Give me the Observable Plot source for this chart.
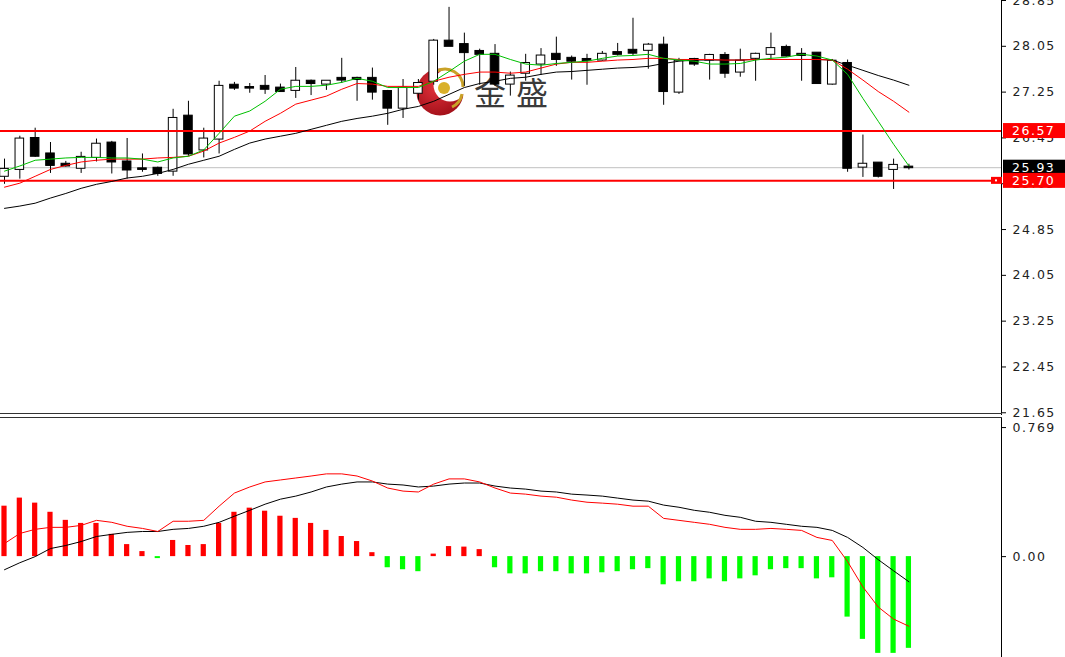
<!DOCTYPE html>
<html><head><meta charset="utf-8">
<script src="https://cdn.jsdelivr.net/npm/d3@7"></script>
<script src="https://cdn.jsdelivr.net/npm/@observablehq/plot@0.6"></script>
<style>
html,body{margin:0;padding:0;background:#fff;}
#wrap{position:relative;width:1065px;height:657px;overflow:hidden;background:#fff;}
#logo{position:absolute;left:0;top:0;}
#main{position:absolute;left:0;top:0;z-index:2;}
#macd{position:absolute;left:0;top:417px;z-index:1;}
#main svg, #macd svg{overflow:visible;}
#main svg text, #macd svg text{letter-spacing:1.5px;}
</style></head><body>
<div id="wrap">
<svg id="logo" width="1065" height="415">
 <defs><radialGradient id="rg" cx="40%" cy="40%" r="70%"><stop offset="0" stop-color="#e0303a"/><stop offset="1" stop-color="#9c0d16"/></radialGradient></defs>
 <circle cx="440" cy="92" r="23.5" fill="url(#rg)"/>
 <circle cx="450" cy="85" r="16.5" fill="#fff"/>
 <path d="M437 71 A18 18 0 0 1 463 87" stroke="#c9a227" stroke-width="3" fill="none"/>
 <path d="M462 94 A18 18 0 0 1 452 107" stroke="#c9a227" stroke-width="3" fill="none"/>
 <circle cx="444" cy="88" r="6" fill="#d9b02a"/>
 <text x="474" y="105" font-family="Noto Sans CJK SC" font-size="32" fill="#3a3a3a" style="letter-spacing:10px">金盛</text>
</svg>
<div id="main"></div>
<div id="macd"></div>
</div>
<script>
// ---- data ----
const open  = [25.78,25.90,26.44,26.17,25.99,25.92,26.11,26.36,26.03,25.91,25.92,25.87,26.83,26.24,26.43,27.37,27.33,27.35,27.32,27.28,27.44,27.39,27.49,27.49,27.49,27.26,26.97,27.23,27.44,28.14,28.08,27.96,27.91,27.39,27.58,27.74,27.91,27.84,27.82,27.81,27.94,27.98,27.98,28.07,27.25,27.82,27.81,27.89,27.60,27.84,27.91,28.03,27.91,27.93,27.39,27.75,25.94,26.01,25.90,25.94];
const high  = [26.08,26.48,26.62,26.37,26.04,26.20,26.43,26.39,26.44,26.17,25.94,26.95,27.09,26.62,27.44,27.42,27.40,27.54,27.39,27.68,27.46,27.44,27.84,27.51,27.67,27.28,27.47,27.47,28.17,28.73,28.28,28.00,28.08,27.60,27.91,28.01,28.21,27.88,27.91,27.96,28.10,28.54,28.10,28.21,27.84,27.84,27.91,27.94,28.00,27.93,28.28,28.07,28.01,27.93,27.82,27.81,26.50,26.01,26.08,25.99];
const low   = [25.64,25.73,26.11,25.83,25.94,25.83,26.03,25.82,25.73,25.85,25.78,25.78,26.13,26.10,26.17,27.28,27.23,27.21,27.25,27.14,27.19,27.28,27.40,27.09,27.11,26.67,26.79,27.11,27.37,28.05,27.35,27.37,27.35,27.18,27.44,27.54,27.70,27.46,27.37,27.79,27.88,27.89,27.65,27.02,27.21,27.70,27.46,27.49,27.51,27.44,27.81,27.86,27.44,27.40,27.37,25.85,25.76,25.75,25.55,25.89];
const close = [25.90,26.43,26.13,25.97,25.96,26.11,26.34,26.03,25.89,25.90,25.83,26.79,26.17,26.43,27.35,27.32,27.32,27.30,27.26,27.44,27.40,27.44,27.46,27.47,27.25,26.97,27.32,27.40,28.14,28.05,27.94,27.91,27.39,27.53,27.75,27.88,27.82,27.79,27.80,27.91,27.91,27.93,28.07,27.26,27.79,27.74,27.89,27.58,27.79,27.91,28.01,27.88,27.89,27.40,27.79,25.92,25.99,25.78,25.97,25.93];

const maFast = [25.87,25.96,26.06,26.08,26.10,26.11,26.11,26.10,26.10,26.08,26.03,26.10,26.13,26.24,26.53,26.83,26.92,27.09,27.30,27.35,27.35,27.37,27.42,27.49,27.44,27.33,27.33,27.33,27.44,27.61,27.79,27.91,27.91,27.82,27.74,27.72,27.75,27.77,27.79,27.84,27.88,27.89,27.91,27.84,27.81,27.79,27.74,27.74,27.75,27.81,27.84,27.86,27.91,27.88,27.81,27.56,27.14,26.74,26.34,25.96];
const maMid  = [25.59,25.66,25.78,25.90,25.97,26.03,26.06,26.08,26.08,26.08,26.10,26.11,26.13,26.22,26.36,26.46,26.57,26.74,26.88,27.04,27.11,27.18,27.30,27.40,27.39,27.35,27.35,27.35,27.44,27.51,27.56,27.60,27.60,27.58,27.60,27.67,27.74,27.77,27.77,27.79,27.81,27.82,27.84,27.84,27.82,27.82,27.82,27.81,27.81,27.82,27.82,27.82,27.82,27.82,27.81,27.65,27.46,27.26,27.09,26.90];
const maSlow = [25.22,25.26,25.31,25.40,25.48,25.57,25.64,25.69,25.75,25.78,25.83,25.90,25.99,26.06,26.13,26.25,26.36,26.43,26.48,26.53,26.60,26.67,26.74,26.79,26.83,26.88,26.95,27.00,27.09,27.21,27.33,27.40,27.44,27.49,27.51,27.56,27.60,27.61,27.63,27.65,27.67,27.68,27.70,27.75,27.79,27.81,27.81,27.81,27.81,27.82,27.82,27.82,27.82,27.82,27.81,27.72,27.63,27.54,27.46,27.37];

const macdHist  = [0.281,0.326,0.298,0.247,0.202,0.185,0.185,0.124,0.067,0.028,-0.011,0.090,0.062,0.067,0.185,0.247,0.270,0.253,0.225,0.213,0.185,0.146,0.112,0.084,0.022,-0.062,-0.073,-0.084,0.014,0.056,0.053,0.039,-0.062,-0.096,-0.096,-0.084,-0.084,-0.096,-0.096,-0.090,-0.084,-0.073,-0.067,-0.157,-0.140,-0.140,-0.124,-0.140,-0.124,-0.107,-0.073,-0.067,-0.067,-0.124,-0.118,-0.337,-0.461,-0.539,-0.539,-0.511];
const macdRed   = [0.073,0.129,0.152,0.163,0.163,0.174,0.202,0.191,0.169,0.157,0.140,0.197,0.197,0.202,0.281,0.354,0.388,0.416,0.427,0.438,0.449,0.461,0.461,0.449,0.421,0.382,0.365,0.360,0.404,0.433,0.433,0.416,0.382,0.354,0.348,0.337,0.331,0.315,0.303,0.298,0.292,0.281,0.281,0.213,0.202,0.191,0.180,0.163,0.152,0.152,0.157,0.152,0.146,0.107,0.090,-0.028,-0.169,-0.281,-0.348,-0.388];
const macdBlack = [-0.073,-0.034,0.000,0.045,0.062,0.084,0.112,0.124,0.135,0.140,0.140,0.152,0.157,0.169,0.191,0.225,0.258,0.292,0.320,0.337,0.360,0.388,0.404,0.416,0.416,0.404,0.399,0.388,0.393,0.404,0.410,0.410,0.393,0.382,0.376,0.365,0.360,0.348,0.343,0.337,0.326,0.315,0.309,0.287,0.275,0.258,0.247,0.230,0.219,0.197,0.191,0.180,0.169,0.163,0.146,0.107,0.051,-0.017,-0.079,-0.140];

const priceTicks = [21.65,22.45,23.25,24.05,24.85,25.65,26.45,27.25,28.05,28.85];
const levels = [26.57, 25.70];
const lastPrice = 25.93;
const macdMax = 0.769;

// ---- layout ----
const W = 1065, RM = 64, H1 = 415, H2 = 240;
const xDomain = [-0.261, 65.04];
const idx = d3.range(close.length);
const candles = idx.map(i => ({i, o: open[i], h: high[i], l: low[i], c: close[i]}));
const font = "DejaVu Sans, Verdana, sans-serif";

const main = Plot.plot({
  width: W, height: H1, marginLeft: 0, marginRight: RM, marginTop: 0, marginBottom: 0,
  style: {background: "transparent", fontFamily: font, fontSize: "12.5px", color: "#222", overflow: "visible"},
  color: {type: "identity"},
  x: {domain: xDomain, axis: null},
  y: {domain: [28.85 - H1 / 57.26, 28.85], axis: null},
  marks: [
    Plot.ruleY([lastPrice], {stroke: "#c0c0c0", strokeWidth: 1}),
    Plot.ruleX(candles, {x: "i", y1: "l", y2: "h", stroke: "#000", strokeWidth: 1}),
    Plot.rect(candles, {x1: d => d.i - 0.28, x2: d => d.i + 0.28, y1: "o", y2: "c",
      fill: d => d.c > d.o ? "#ffffff" : "#000000", stroke: "#000", strokeWidth: 1,
      insetTop: -0.5, insetBottom: -0.5}),
    Plot.ruleY(levels, {stroke: "#ff0000", strokeWidth: 2}),
    Plot.line(idx, {x: i => i, y: i => maSlow[i], stroke: "#000", strokeWidth: 1}),
    Plot.line(idx, {x: i => i, y: i => maMid[i], stroke: "#ff0000", strokeWidth: 1}),
    Plot.line(idx, {x: i => i, y: i => maFast[i], stroke: "#00c000", strokeWidth: 1}),
    Plot.axisY(priceTicks, {anchor: "right", tickSize: 4, tickPadding: 7, tickFormat: d => d.toFixed(2), stroke: "#000", fill: "#222"})
  ]
});
document.getElementById("main").appendChild(main);

// frame lines & price labels
{
  const svg = d3.select(main);
  const ys = main.scale("y");
  const xr = W - RM;
  svg.append("line").attr("x1", xr + 0.5).attr("x2", xr + 0.5).attr("y1", 0).attr("y2", H1).attr("stroke", "#000");
  svg.append("line").attr("x1", 0).attr("x2", xr + 1).attr("y1", H1 - 1.5).attr("y2", H1 - 1.5).attr("stroke", "#333");
  const labs = [
    {v: levels[0], bg: "#ff0000"},
    {v: lastPrice, bg: "#000000"},
    {v: levels[1], bg: "#ff0000"}
  ];
  for (const L of labs) {
    const cy = ys.apply(L.v);
    svg.append("rect").attr("x", xr + 2).attr("y", cy - 7.5).attr("width", W - xr - 2).attr("height", 15).attr("fill", L.bg);
    svg.append("text").attr("x", xr + 11).attr("y", cy).attr("dy", "0.36em").attr("text-anchor", "start")
      .style("text-anchor", "start")
      .attr("fill", "#fff").attr("font-family", font).attr("font-size", "12.5px").text(L.v.toFixed(2));
  }
  const cy2 = ys.apply(levels[1]);
  svg.append("rect").attr("x", xr - 10).attr("y", cy2 - 3.5).attr("width", 11).attr("height", 7).attr("fill", "#ff0000");
  svg.append("rect").attr("x", xr - 6).attr("y", cy2 - 1).attr("width", 2).attr("height", 2).attr("fill", "#fff");
}

const macd = Plot.plot({
  width: W, height: H2, marginLeft: 0, marginRight: RM, marginTop: 0, marginBottom: 0,
  style: {background: "transparent", fontFamily: font, fontSize: "12.5px", color: "#222"},
  color: {type: "identity"},
  x: {domain: xDomain, axis: null},
  y: {domain: [-0.562, 0.775], axis: null},
  marks: [
    Plot.rect(idx, {x1: i => i - 0.17, x2: i => i + 0.17, y1: i => 0, y2: i => macdHist[i],
      fill: i => macdHist[i] >= 0 ? "#ff0000" : "#00ff00"}),
    Plot.line(idx, {x: i => i, y: i => macdBlack[i], stroke: "#000", strokeWidth: 1}),
    Plot.line(idx, {x: i => i, y: i => macdRed[i], stroke: "#ff0000", strokeWidth: 1}),
    Plot.axisY([0], {anchor: "right", tickSize: 4, tickPadding: 7, tickFormat: d => d.toFixed(2), stroke: "#000", fill: "#222"}),
    Plot.axisY([macdMax], {anchor: "right", tickSize: 4, tickPadding: 7, tickFormat: d => d.toFixed(3), stroke: "#000", fill: "#222", dy: 9})
  ]
});
document.getElementById("macd").appendChild(macd);
{
  const svg = d3.select(macd);
  const xr = W - RM;
  svg.append("line").attr("x1", xr + 0.5).attr("x2", xr + 0.5).attr("y1", 0).attr("y2", H2).attr("stroke", "#000");
  svg.append("line").attr("x1", 0).attr("x2", xr + 1).attr("y1", 0.5).attr("y2", 0.5).attr("stroke", "#333");
}
</script>
</body></html>
